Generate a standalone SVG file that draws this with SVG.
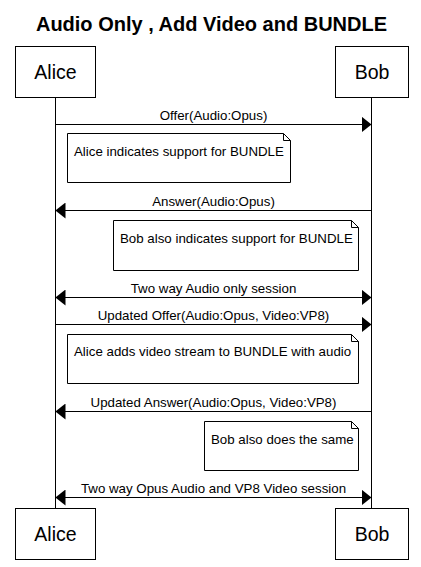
<svg xmlns="http://www.w3.org/2000/svg" width="421" height="567" viewBox="0 0 421 567">
<defs>
<style>
.box{fill:#fff;stroke:#000;stroke-width:1}
.ln{stroke:#000;stroke-width:1;fill:none}
.note{fill:#fff;stroke:#000;stroke-width:1}
.t{font-family:"Liberation Sans",Arial,sans-serif;font-size:13.3px;fill:#000}
.p{font-family:"Liberation Sans",Arial,sans-serif;font-size:19.5px;fill:#000;text-anchor:middle}
.lbl{text-anchor:middle}
</style>
<marker id="ah" viewBox="0 0 10 16" refX="10" refY="8" markerWidth="10" markerHeight="16" markerUnits="userSpaceOnUse" orient="auto-start-reverse">
<path d="M0,0 L10,8 L0,16 Z" fill="#000"/>
</marker>
</defs>
<rect width="421" height="567" fill="#fff"/>
<text x="211.5" y="31" font-family="'Liberation Sans',Arial,sans-serif" font-size="20" font-weight="bold" text-anchor="middle">Audio Only , Add Video and BUNDLE</text>
<g id="lifelines">
<line class="ln" x1="55.5" y1="97.5" x2="55.5" y2="508.5"/>
<line class="ln" x1="371.5" y1="97.5" x2="371.5" y2="508.5"/>
</g>
<g id="alice-top"><rect class="box" x="15.5" y="46.5" width="80" height="51"/><text class="p" x="55.5" y="78.5">Alice</text></g>
<g id="bob-top"><rect class="box" x="335.5" y="46.5" width="73" height="51"/><text class="p" x="372" y="78.5">Bob</text></g>
<g id="alice-bottom"><rect class="box" x="15.5" y="508.5" width="80" height="51"/><text class="p" x="55.5" y="540.5">Alice</text></g>
<g id="bob-bottom"><rect class="box" x="335.5" y="508.5" width="73" height="51"/><text class="p" x="372" y="540.5">Bob</text></g>
<g id="connectors">
<line class="ln" x1="55.5" y1="124.5" x2="371.5" y2="124.5" marker-end="url(#ah)"/>
<text class="t lbl" x="213.5" y="120">Offer(Audio:Opus)</text>
<line class="ln" x1="371.5" y1="210.5" x2="55.5" y2="210.5" marker-end="url(#ah)"/>
<text class="t lbl" x="213.5" y="206">Answer(Audio:Opus)</text>
<line class="ln" x1="55.5" y1="297.5" x2="371.5" y2="297.5" marker-start="url(#ah)" marker-end="url(#ah)"/>
<text class="t lbl" x="213.5" y="293">Two way Audio only session</text>
<line class="ln" x1="55.5" y1="324.5" x2="371.5" y2="324.5" marker-end="url(#ah)"/>
<text class="t lbl" x="213.5" y="320">Updated Offer(Audio:Opus, Video:VP8)</text>
<line class="ln" x1="371.5" y1="411.5" x2="55.5" y2="411.5" marker-end="url(#ah)"/>
<text class="t lbl" x="213.5" y="407">Updated Answer(Audio:Opus, Video:VP8)</text>
<line class="ln" x1="55.5" y1="497.5" x2="371.5" y2="497.5" marker-start="url(#ah)" marker-end="url(#ah)"/>
<text class="t lbl" x="213.5" y="493">Two way Opus Audio and VP8 Video session</text>
</g>
<g id="note1">
<path class="note" d="M67.5,133.5 H283.5 L290.5,140.5 V182.5 H67.5 Z"/>
<path class="ln" d="M283.5,133.5 V140.5 H290.5"/>
<text class="t" x="74" y="155.5">Alice indicates support for BUNDLE</text>
</g>
<g id="note2">
<path class="note" d="M113.5,220.5 H351.5 L358.5,227.5 V270.5 H113.5 Z"/>
<path class="ln" d="M351.5,220.5 V227.5 H358.5"/>
<text class="t" x="120" y="242.5">Bob also indicates support for BUNDLE</text>
</g>
<g id="note3">
<path class="note" d="M67.5,334.5 H351.5 L358.5,341.5 V383.5 H67.5 Z"/>
<path class="ln" d="M351.5,334.5 V341.5 H358.5"/>
<text class="t" x="74" y="356">Alice adds video stream to BUNDLE with audio</text>
</g>
<g id="note4">
<path class="note" d="M204.5,421.5 H351.5 L358.5,428.5 V470.5 H204.5 Z"/>
<path class="ln" d="M351.5,421.5 V428.5 H358.5"/>
<text class="t" x="211" y="443.5">Bob also does the same</text>
</g>
</svg>
